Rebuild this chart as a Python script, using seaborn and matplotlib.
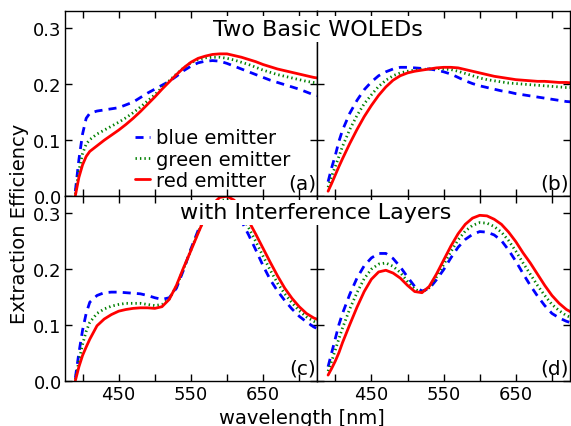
import matplotlib
matplotlib.use("Agg")
import matplotlib.pyplot as plt
import seaborn as sns

# ---------------- data ----------------
wl = [390, 395, 400, 405, 410, 420, 430, 440, 450, 460, 470, 480, 490, 500,
      510, 520, 530, 540, 550, 560, 570, 580, 590, 600, 610, 620, 630, 640,
      650, 660, 670, 680, 690, 700, 710, 720, 730]

a_blue = [0.008, 0.065, 0.110, 0.138, 0.147, 0.151, 0.153, 0.155, 0.157, 0.162, 0.167, 0.175,
          0.183, 0.190, 0.197, 0.204, 0.213, 0.223, 0.231, 0.237, 0.240, 0.241, 0.240, 0.236,
          0.231, 0.226, 0.221, 0.216, 0.211, 0.206, 0.202, 0.198, 0.194, 0.190, 0.185, 0.180, 0.177]
a_green = [0.003, 0.045, 0.075, 0.092, 0.100, 0.110, 0.117, 0.124, 0.131, 0.139, 0.148, 0.158,
           0.169, 0.180, 0.193, 0.205, 0.217, 0.228, 0.237, 0.243, 0.246, 0.247, 0.247, 0.245,
           0.242, 0.238, 0.234, 0.229, 0.224, 0.220, 0.216, 0.213, 0.210, 0.207, 0.204, 0.202, 0.200]
a_red = [0.000, 0.033, 0.055, 0.070, 0.079, 0.089, 0.099, 0.108, 0.117, 0.127, 0.138, 0.150,
         0.163, 0.176, 0.190, 0.203, 0.216, 0.228, 0.238, 0.245, 0.249, 0.252, 0.253, 0.253,
         0.250, 0.247, 0.243, 0.239, 0.234, 0.230, 0.226, 0.223, 0.220, 0.217, 0.214, 0.211, 0.209]

b_blue = [0.025, 0.050, 0.072, 0.097, 0.117, 0.147, 0.170, 0.189, 0.203, 0.214, 0.221, 0.226,
          0.229, 0.229, 0.228, 0.227, 0.226, 0.224, 0.221, 0.217, 0.211, 0.205, 0.200, 0.196,
          0.193, 0.190, 0.187, 0.185, 0.182, 0.180, 0.178, 0.176, 0.174, 0.172, 0.170, 0.168, 0.167]
b_green = [0.015, 0.035, 0.052, 0.070, 0.088, 0.118, 0.143, 0.164, 0.180, 0.195, 0.206, 0.214,
           0.219, 0.222, 0.224, 0.225, 0.226, 0.227, 0.226, 0.225, 0.222, 0.218, 0.214, 0.210,
           0.207, 0.205, 0.203, 0.201, 0.200, 0.199, 0.198, 0.197, 0.196, 0.195, 0.194, 0.193, 0.193]
b_red = [0.008, 0.022, 0.037, 0.052, 0.066, 0.093, 0.118, 0.141, 0.161, 0.179, 0.194, 0.206,
         0.214, 0.219, 0.222, 0.224, 0.226, 0.228, 0.229, 0.229, 0.228, 0.225, 0.222, 0.219,
         0.216, 0.213, 0.211, 0.209, 0.207, 0.206, 0.205, 0.204, 0.204, 0.203, 0.202, 0.202, 0.201]

c_blue = [0.005, 0.050, 0.090, 0.120, 0.140, 0.152, 0.157, 0.158, 0.158, 0.157, 0.156, 0.155,
          0.152, 0.148, 0.145, 0.148, 0.165, 0.198, 0.235, 0.268, 0.293, 0.310, 0.317, 0.315,
          0.303, 0.285, 0.260, 0.233, 0.205, 0.180, 0.160, 0.143, 0.128, 0.115, 0.105, 0.096, 0.090]
c_green = [0.002, 0.035, 0.065, 0.088, 0.104, 0.120, 0.128, 0.133, 0.136, 0.138, 0.138, 0.138,
           0.136, 0.134, 0.136, 0.146, 0.168, 0.200, 0.233, 0.265, 0.293, 0.313, 0.322, 0.322,
           0.313, 0.296, 0.273, 0.248, 0.222, 0.197, 0.174, 0.155, 0.139, 0.125, 0.114, 0.106, 0.100]
c_red = [0.000, 0.025, 0.045, 0.060, 0.074, 0.098, 0.110, 0.118, 0.124, 0.127, 0.129, 0.130,
         0.130, 0.129, 0.132, 0.145, 0.170, 0.202, 0.232, 0.263, 0.293, 0.315, 0.327, 0.329,
         0.322, 0.305, 0.285, 0.261, 0.236, 0.211, 0.187, 0.165, 0.147, 0.132, 0.120, 0.112, 0.107]

d_blue = [0.025, 0.050, 0.075, 0.100, 0.120, 0.154, 0.183, 0.205, 0.219, 0.227, 0.227, 0.218,
          0.203, 0.185, 0.168, 0.160, 0.164, 0.180, 0.198, 0.219, 0.238, 0.252, 0.261, 0.266,
          0.265, 0.260, 0.250, 0.233, 0.213, 0.191, 0.170, 0.151, 0.134, 0.120, 0.112, 0.106, 0.102]
d_green = [0.017, 0.035, 0.055, 0.075, 0.094, 0.128, 0.157, 0.182, 0.199, 0.208, 0.210, 0.204,
           0.193, 0.177, 0.163, 0.158, 0.166, 0.185, 0.207, 0.230, 0.251, 0.267, 0.277, 0.282,
           0.281, 0.275, 0.265, 0.250, 0.231, 0.210, 0.190, 0.170, 0.152, 0.136, 0.125, 0.116, 0.111]
d_red = [0.010, 0.022, 0.035, 0.050, 0.068, 0.100, 0.131, 0.159, 0.181, 0.194, 0.197, 0.192,
         0.183, 0.170, 0.159, 0.157, 0.168, 0.190, 0.215, 0.240, 0.262, 0.279, 0.290, 0.295,
         0.294, 0.288, 0.279, 0.265, 0.248, 0.228, 0.210, 0.190, 0.170, 0.152, 0.138, 0.127, 0.120]

series_labels = ["blue emitter", "green emitter", "red emitter"]
panel_labels = ["(a)", "(b)", "(c)", "(d)"]
xtick_values = [400, 450, 500, 550, 600, 650, 700]
xtick_labels = ["", "450", "", "550", "", "650", ""]
ytick_values = [0.0, 0.1, 0.2, 0.3]
ytick_labels = ["0.0", "0.1", "0.2", "0.3"]

# ---------------- style ----------------
sns.set_style("ticks", {"xtick.direction": "in", "ytick.direction": "in",
                        "axes.edgecolor": "black", "text.color": "black",
                        "axes.labelcolor": "black", "xtick.color": "black",
                        "ytick.color": "black"})
plt.rcParams["font.family"] = ["DejaVu Sans"]
plt.rcParams["text.color"] = "black"

fig, axes = plt.subplots(2, 2, figsize=(5.71, 4.27), dpi=100, sharex=True, sharey=True)
fig.subplots_adjust(left=64.5 / 571, right=570 / 571, bottom=1 - 381.7 / 427,
                    top=1 - 11.7 / 427, wspace=0, hspace=0)

colors = ["#0000ff", "#008000", "#ff0000"]
styles = [(0, (2.9, 2.2)), (0, (0.5, 1.1)), "-"]

panels = [(a_blue, a_green, a_red), (b_blue, b_green, b_red),
          (c_blue, c_green, c_red), (d_blue, d_green, d_red)]

for i, (ax, data) in enumerate(zip(axes.flat, panels)):
    for j, ys in enumerate(data):
        sns.lineplot(x=wl, y=ys, ax=ax, color=colors[j], linestyle=styles[j],
                     linewidth=2, label=series_labels[j] if i == 0 else None,
                     legend=False)
    ax.set_xlim(375, 725)
    ax.set_ylim(0, 0.33)
    ax.set_xticks(xtick_values)
    ax.set_xticklabels(xtick_labels)
    ax.set_yticks(ytick_values)
    ax.set_yticklabels(ytick_labels)
    ax.tick_params(which="both", direction="in", top=True, right=True,
                   length=5, width=1, labelsize=13, colors="black",
                   labelcolor="black", pad=3)
    ax.tick_params(axis="y", pad=2)
    for sp in ax.spines.values():
        sp.set_linewidth(1.0)
        sp.set_color("black")
    ax.text(0.995, 0.015, panel_labels[i], transform=ax.transAxes,
            ha="right", va="bottom", fontsize=14.5, color="black")

leg = axes[0, 0].legend(loc="lower left", bbox_to_anchor=(0.28, 0.03),
                        frameon=False, fontsize=14, handlelength=0.75,
                        handletextpad=0.3, labelspacing=0.12, borderpad=0,
                        borderaxespad=0)
for t in leg.get_texts():
    t.set_color("black")

box = dict(facecolor="white", edgecolor="none", pad=2)
fig.text(318 / 571, 1 - 30 / 427, "Two Basic WOLEDs", ha="center", va="center",
         fontsize=16, bbox=box, zorder=10, color="black")
fig.text(316 / 571, 1 - 213.5 / 427, "with Interference Layers", ha="center",
         va="center", fontsize=16, bbox=box, zorder=10, color="black")
fig.text(20 / 571, 1 - 224 / 427, "Extraction Efficiency", rotation=90,
         ha="center", va="center", fontsize=14, color="black")
fig.text(302 / 571, 2.5 / 427, "wavelength [nm]", ha="center", va="baseline",
         fontsize=14, color="black")

fig.savefig("out.png", dpi=100)
